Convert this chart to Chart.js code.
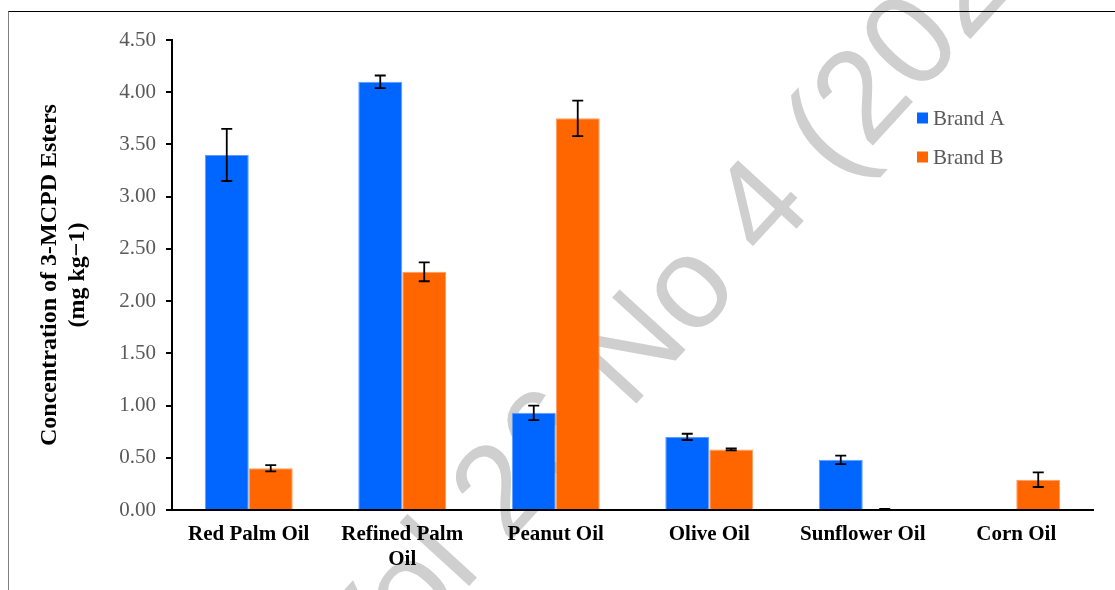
<!DOCTYPE html>
<html>
<head>
<meta charset="utf-8">
<script src="https://cdn.jsdelivr.net/npm/chart.js@4.4.1/dist/chart.umd.min.js"></script>
<style>
  html, body { margin: 0; padding: 0; background: #fff; }
  #wrap { position: relative; width: 1115px; height: 590px; overflow: hidden; }
  #c { position: absolute; left: 0; top: 0; }
  #frame { position: absolute; left: 8px; top: 11px; width: 1200px; height: 700px;
           border-top: 1px solid #000; border-left: 1px solid #7f7f7f; pointer-events: none; }
</style>
</head>
<body>
<div id="wrap">
  <canvas id="c" width="1115" height="590"></canvas>
  <div id="frame"></div>
</div>
<script>
// Oil types
const categories = ['Red Palm Oil', ['Refined Palm', 'Oil'], 'Peanut Oil', 'Olive Oil', 'Sunflower Oil', 'Corn Oil'];
// 3-MCPD ester concentration, mg kg-1
const brandA = [3.40, 4.10, 0.93, 0.70, 0.48, 0];
const brandB = [0.40, 2.28, 3.75, 0.58, 0.01, 0.29];
// Standard deviations (null = no error bar)
const brandAErr = [0.25, 0.06, 0.07, 0.03, 0.04, null];
const brandBErr = [0.03, 0.09, 0.17, 0.01, 0, 0.07];
const yTicks = [0, 0.5, 1, 1.5, 2, 2.5, 3, 3.5, 4, 4.5];

const SERIF = '"Liberation Serif", "Times New Roman", serif';

// Journal watermark behind the plot
const watermark = {
  id: 'watermark',
  beforeDraw(chart) {
    const ctx = chart.ctx;
    ctx.save();
    const size = 130;
    ctx.font = size + 'px "Liberation Sans", Arial, sans-serif';
    ctx.fillStyle = '#cfcfcf';
    const text = 'Vol 26 No 4 (2022)';
    const pre = ctx.measureText('Vol 26 No ').width;
    const w4 = ctx.measureText('4').width;
    ctx.translate(756, 204);
    ctx.rotate(-47.5 * Math.PI / 180);
    ctx.textBaseline = 'alphabetic';
    ctx.fillText(text, -(pre + w4 / 2), 0.358 * size);
    ctx.restore();
  }
};

// Error bars with caps
const errorBars = {
  id: 'errorBars',
  afterDatasetsDraw(chart) {
    const ctx = chart.ctx;
    const y = chart.scales.y;
    ctx.save();
    ctx.strokeStyle = '#000';
    ctx.lineWidth = 1.8;
    chart.data.datasets.forEach((ds, i) => {
      const meta = chart.getDatasetMeta(i);
      meta.data.forEach((bar, j) => {
        const e = ds.errors[j];
        if (e === null || e === undefined) return;
        const v = ds.data[j];
        const yt = y.getPixelForValue(v + e);
        const yb = y.getPixelForValue(v - e);
        const x = bar.x, cap = 5.5;
        ctx.beginPath();
        ctx.moveTo(x, yt); ctx.lineTo(x, yb);
        ctx.moveTo(x - cap, yt); ctx.lineTo(x + cap, yt);
        ctx.moveTo(x - cap, yb); ctx.lineTo(x + cap, yb);
        ctx.stroke();
      });
    });
    ctx.restore();
  }
};

// Legend drawn inside the plot area
const innerLegend = {
  id: 'innerLegend',
  afterDraw(chart) {
    const ctx = chart.ctx;
    ctx.save();
    ctx.font = '21px ' + SERIF;
    ctx.textBaseline = 'middle';
    chart.data.datasets.forEach((ds, i) => {
      const cy = 118 + i * 39;
      ctx.fillStyle = ds.backgroundColor;
      ctx.fillRect(917, cy - 5.5, 11, 11);
      ctx.fillStyle = '#595959';
      ctx.fillText(ds.label, 933, cy + 1);
    });
    ctx.restore();
  }
};

new Chart(document.getElementById('c'), {
  type: 'bar',
  data: {
    labels: categories,
    datasets: [
      { label: 'Brand A', data: brandA, errors: brandAErr,
        backgroundColor: '#0066ff', borderColor: '#5e9dff', borderWidth: 1 },
      { label: 'Brand B', data: brandB, errors: brandBErr,
        backgroundColor: '#ff6600', borderColor: '#ff9b5e', borderWidth: 1 }
    ]
  },
  options: {
    responsive: false,
    animation: false,
    devicePixelRatio: 1,
    categoryPercentage: 0.573,
    barPercentage: 1,
    layout: { padding: { left: 36, right: 22, top: 40, bottom: 0 } },
    plugins: { legend: { display: false }, tooltip: { enabled: false } },
    scales: {
      x: {
        grid: { display: false, drawTicks: false },
        border: { color: '#000', width: 2 },
        ticks: { color: '#000', font: { family: SERIF, size: 21, weight: 'bold', lineHeight: 1.2 },
                 padding: 12, maxRotation: 0, autoSkip: false },
        afterFit(s) { s.height = 80; }
      },
      y: {
        min: 0, max: 4.5,
        afterBuildTicks(s) { s.ticks = yTicks.map(v => ({ value: v })); },
        ticks: { color: '#595959', font: { family: SERIF, size: 21 }, padding: 10,
                 callback: v => Number(v).toFixed(2) },
        grid: { drawOnChartArea: false, drawTicks: true, tickLength: 6, color: '#000', lineWidth: 2 },
        border: { color: '#000', width: 2 },
        title: { display: true, text: ['Concentration of 3-MCPD Esters', '(mg kg\u22121)'],
                 color: '#000', padding: 0,
                 font: { family: SERIF, size: 24, weight: 'bold', lineHeight: 1.17 } },
        afterFit(s) { s.width = 136; }
      }
    }
  },
  plugins: [watermark, errorBars, innerLegend]
});
</script>
</body>
</html>
